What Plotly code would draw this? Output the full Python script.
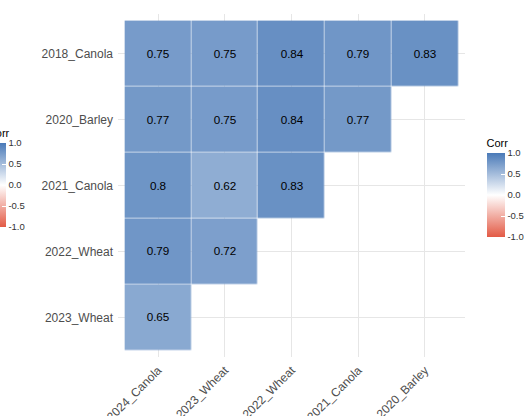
import plotly.graph_objects as go

x_labels = ["2024_Canola", "2023_Wheat", "2022_Wheat", "2021_Canola", "2020_Barley"]
y_labels = ["2018_Canola", "2020_Barley", "2021_Canola", "2022_Wheat", "2023_Wheat"]

row_2018_canola = [0.75, 0.75, 0.84, 0.79, 0.83]
row_2020_barley = [0.77, 0.75, 0.84, 0.77, None]
row_2021_canola = [0.8, 0.62, 0.83, None, None]
row_2022_wheat = [0.79, 0.72, None, None, None]
row_2023_wheat = [0.65, None, None, None, None]

z = [row_2018_canola, row_2020_barley, row_2021_canola, row_2022_wheat, row_2023_wheat]
text = [["" if v is None else f"{v:g}" for v in row] for row in z]

colorscale = [[0.0, "#E35A45"], [0.5, "#FFFFFF"], [1.0, "#4A7AB8"]]

def cbar(x, y):
    return dict(
        x=x, xanchor="left", xpad=0, y=y, yanchor="middle", ypad=0,
        len=0.295, lenmode="fraction", thickness=18, outlinewidth=0,
        title=dict(text="Corr", side="top", font=dict(family="Liberation Sans, Arial", size=11, color="#000")),
        tickvals=[-1, -0.5, 0, 0.5, 1], ticktext=["-1.0", "-0.5", "0.0", "0.5", "1.0"],
        ticks="inside", ticklen=4, tickcolor="white",
        tickfont=dict(family="Liberation Sans, Arial", size=9.5, color="#333"),
    )

fig = go.Figure()
fig.add_trace(go.Heatmap(
    z=z, x=x_labels, y=y_labels, text=text, texttemplate="%{text}",
    textfont=dict(family="Liberation Sans, Arial", size=11.7, color="#000"),
    colorscale=colorscale, zmin=-1, zmax=1, xgap=0.6, ygap=0.6,
    hoverongaps=False, colorbar=cbar(1.062, 0.497),
))
# duplicate (clipped) legend on the left edge
fig.add_trace(go.Heatmap(
    z=[[0]], xaxis="x2", yaxis="y2", colorscale=colorscale, opacity=0,
    zmin=-1, zmax=1, showscale=True, hoverinfo="skip",
    colorbar=cbar(-0.375, 0.526),
))

axis_font = dict(family="Liberation Sans, Arial", size=12, color="#4D4D4D")
fig.update_layout(
    width=524, height=416,
    margin=dict(l=118, r=59, t=14, b=59, autoexpand=False),
    paper_bgcolor="white", plot_bgcolor="white",
    xaxis=dict(type="category", categoryorder="array", categoryarray=x_labels,
               range=[-0.6, 4.6], showgrid=True, gridcolor="#E6E6E6", gridwidth=1,
               zeroline=False, showline=False, tickangle=-45, tickfont=axis_font,
               ticks="", ticklabelstandoff=3, automargin=False),
    yaxis=dict(type="category", categoryorder="array", categoryarray=y_labels,
               range=[4.6, -0.6], showgrid=True, gridcolor="#E6E6E6", gridwidth=1,
               zeroline=False, showline=False, tickfont=axis_font, ticks="",
               ticklabelstandoff=4, automargin=False),
    xaxis2=dict(visible=False, overlaying="x", range=[10, 11]),
    yaxis2=dict(visible=False, overlaying="y", range=[10, 11]),
)
fig.write_html("out.html")
